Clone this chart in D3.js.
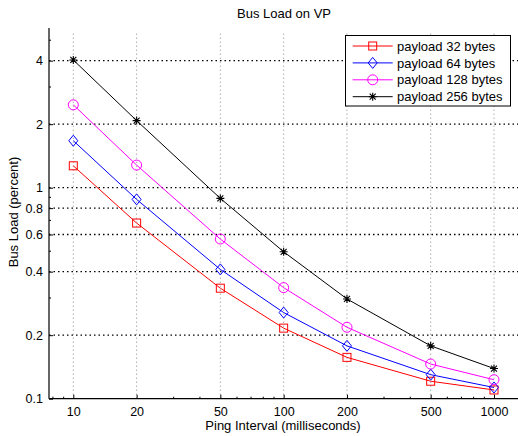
<!DOCTYPE html>
<html>
<head>
<meta charset="utf-8">
<script src="https://cdn.jsdelivr.net/npm/d3@7/dist/d3.min.js"></script>
<style>
  html, body { margin: 0; padding: 0; background: #fff; }
  svg { display: block; }
  text { font-family: "Liberation Sans", Arial, Helvetica, sans-serif; fill: #000; }
</style>
</head>
<body>
<script>
// ---- data ----
const intervals = [10, 20, 50, 100, 200, 500, 1000];
const seriesNames = ["payload 32 bytes", "payload 64 bytes", "payload 128 bytes", "payload 256 bytes"];
const load32  = [1.27, 0.68, 0.334, 0.216, 0.157, 0.121, 0.110];
const load64  = [1.67, 0.88, 0.41, 0.256, 0.178, 0.130, 0.113];
const load128 = [2.47, 1.28, 0.571, 0.336, 0.218, 0.146, 0.123];
const load256 = [4.03, 2.08, 0.89, 0.497, 0.297, 0.178, 0.139];
const xTicks = [10, 20, 50, 100, 200, 500, 1000];
const yTicks = [0.1, 0.2, 0.4, 0.6, 0.8, 1, 2, 4];
const yTickLabels = ["0.1", "0.2", "0.4", "0.6", "0.8", "1", "2", "4"];
const titleText = "Bus Load on VP";
const xLabelText = "Ping Interval (milliseconds)";
const yLabelText = "Bus Load (percent)";

const seriesValues = [load32, load64, load128, load256];
const colors = ["#ff0000", "#0000ff", "#ff00ff", "#000000"];
const markers = ["square", "diamond", "circle", "star"];

// ---- layout ----
const W = 518, H = 436;
const plot = { left: 49, right: 518, top: 28, bottom: 398.7 };

const x = d3.scaleLog().domain([10, 1000]).range([73.3, 494]);
const y = d3.scaleLog().domain([0.1, 1]).range([398.7, 187.7]);

const svg = d3.select("body").append("svg").attr("width", W).attr("height", H);

// grid
const g = svg.append("g");
g.selectAll("line.vg").data(xTicks).enter().append("line")
  .attr("x1", d => x(d)).attr("x2", d => x(d))
  .attr("y1", plot.bottom).attr("y2", plot.top + 3)
  .attr("stroke", "#888").attr("stroke-width", 1)
  .attr("stroke-dasharray", "1,3");
g.selectAll("line.hg").data(yTicks.filter(d => d > 0.1)).enter().append("line")
  .attr("x1", plot.left).attr("x2", plot.right)
  .attr("y1", d => y(d)).attr("y2", d => y(d))
  .attr("stroke", "#000").attr("stroke-width", 1.3)
  .attr("stroke-dasharray", "1.5,3");

// axes
const xAxis = d3.axisBottom(x).tickValues(xTicks).tickFormat(d3.format("d")).tickSize(-4).tickPadding(8);
const xa = svg.append("g").attr("transform", `translate(0,${plot.bottom})`).call(xAxis);
xa.select(".domain").remove();
xa.selectAll("text").attr("font-size", 12.5).attr("font-family", "Liberation Sans, Arial, sans-serif").attr("dy", "0.71em");
xa.selectAll(".tick line").attr("stroke", "#000");

// minor ticks x
const minorX = [];
[1, 10, 100, 1000].forEach(dec => {
  for (let k = 1; k < 10; k++) {
    const v = dec * k;
    const px = x(v);
    if (px >= plot.left && px <= plot.right && xTicks.indexOf(v) < 0) minorX.push(v);
  }
});
svg.append("g").selectAll("line").data(minorX).enter().append("line")
  .attr("x1", d => x(d)).attr("x2", d => x(d))
  .attr("y1", plot.bottom).attr("y2", plot.bottom - 2)
  .attr("stroke", "#000").attr("stroke-width", 1);

const yAxis = d3.axisLeft(y).tickValues(yTicks).tickFormat((d, i) => yTickLabels[i]).tickSize(-4).tickPadding(6);
const ya = svg.append("g").attr("transform", `translate(${plot.left},0)`).call(yAxis);
ya.select(".domain").remove();
ya.selectAll("text").attr("font-size", 12.5).attr("font-family", "Liberation Sans, Arial, sans-serif");
ya.selectAll(".tick line").attr("stroke", "#000");

// minor ticks y
const minorY = [];
[0.1, 1].forEach(dec => {
  for (let k = 1; k < 10; k++) {
    const v = +(dec * k).toFixed(3);
    const py = y(v);
    if (py >= plot.top && py <= plot.bottom && yTicks.indexOf(v) < 0) minorY.push(v);
  }
});
svg.append("g").selectAll("line").data(minorY).enter().append("line")
  .attr("x1", plot.left).attr("x2", plot.left + 2)
  .attr("y1", d => y(d)).attr("y2", d => y(d))
  .attr("stroke", "#000").attr("stroke-width", 1);

// axis lines
svg.append("line").attr("x1", plot.left).attr("x2", plot.left)
  .attr("y1", plot.top).attr("y2", plot.bottom).attr("stroke", "#000").attr("stroke-width", 1.2);
svg.append("line").attr("x1", plot.left).attr("x2", plot.right)
  .attr("y1", plot.bottom).attr("y2", plot.bottom).attr("stroke", "#000").attr("stroke-width", 1.2);

// marker drawing
function drawMarker(sel, type, color) {
  if (type === "square") {
    sel.append("rect").attr("x", -4).attr("y", -4).attr("width", 8).attr("height", 8)
      .attr("fill", "none").attr("stroke", color).attr("stroke-width", 1);
  } else if (type === "diamond") {
    sel.append("path").attr("d", "M0,-5.5L4.5,0L0,5.5L-4.5,0Z")
      .attr("fill", "none").attr("stroke", color).attr("stroke-width", 1);
  } else if (type === "circle") {
    sel.append("circle").attr("r", 5)
      .attr("fill", "none").attr("stroke", color).attr("stroke-width", 1);
  } else if (type === "star") {
    sel.append("path").attr("d", "M-4,0H4M0,-4V4M-3,-3L3,3M-3,3L3,-3")
      .attr("fill", "none").attr("stroke", color).attr("stroke-width", 1.1);
  }
}

// series
const line = d3.line().x((d, i) => x(intervals[i])).y(d => y(d));
seriesValues.forEach((vals, s) => {
  svg.append("path").datum(vals).attr("d", line)
    .attr("fill", "none").attr("stroke", colors[s]).attr("stroke-width", 1);
  vals.forEach((v, i) => {
    const m = svg.append("g").attr("transform", `translate(${x(intervals[i])},${y(v)})`);
    drawMarker(m, markers[s], colors[s]);
  });
});

// legend
const lg = svg.append("g");
lg.append("rect").attr("x", 345.5).attr("y", 35.5).attr("width", 165).attr("height", 70.5)
  .attr("fill", "#fff").attr("stroke", "#000").attr("stroke-width", 1);
seriesNames.forEach((name, i) => {
  const ry = 46 + i * 16.9;
  lg.append("line").attr("x1", 352.7).attr("x2", 392.7).attr("y1", ry).attr("y2", ry)
    .attr("stroke", colors[i]).attr("stroke-width", 1);
  const m = lg.append("g").attr("transform", `translate(372.7,${ry})`);
  drawMarker(m, markers[i], colors[i]);
  lg.append("text").attr("x", 397).attr("y", ry).attr("dy", "0.36em")
    .attr("font-size", 13).text(name);
});

// titles
svg.append("text").attr("x", 284).attr("y", 18).attr("text-anchor", "middle")
  .attr("font-size", 13).text(titleText);
svg.append("text").attr("x", 283).attr("y", 430).attr("text-anchor", "middle")
  .attr("font-size", 13).text(xLabelText);
svg.append("text").attr("transform", "translate(18,212) rotate(-90)").attr("text-anchor", "middle")
  .attr("font-size", 13).text(yLabelText);
</script>
</body>
</html>
